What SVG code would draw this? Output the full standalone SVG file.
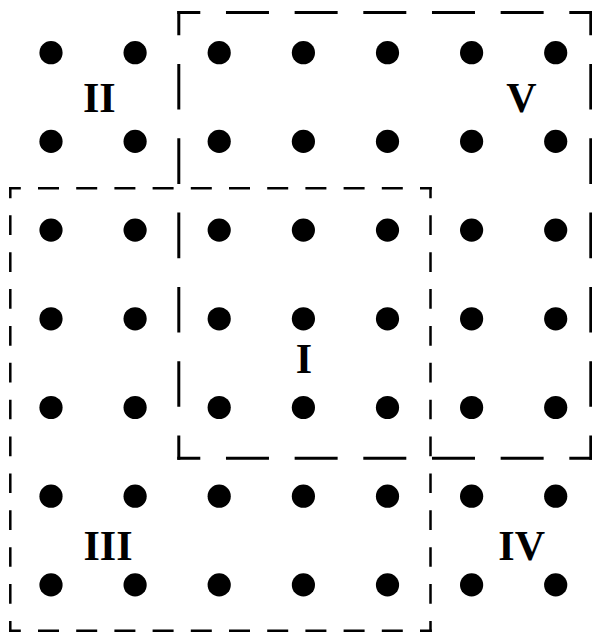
<svg xmlns="http://www.w3.org/2000/svg" width="592" height="633" viewBox="0 0 592 633">
<style>
.dot{fill:#000}
.lbl{font-family:"Liberation Serif","Times New Roman",serif;font-weight:bold;font-size:42px;text-anchor:middle;fill:#000}
.v{stroke:#000;stroke-width:3;fill:none}
.vh{stroke-dasharray:43 25.67;stroke-dashoffset:20}
.vv{stroke-dasharray:45.6 28.7;stroke-dashoffset:21.3}
.t{stroke:#000;stroke-width:2.5;fill:none}
.th{stroke-dasharray:21 17.2;stroke-dashoffset:9.25}
.tv{stroke-dasharray:19.7 17.17;stroke-dashoffset:8.6}
</style>
<rect width="592" height="633" fill="#fff"/>
<g id="connectors">
<g id="regionV">
<line class="v vh" x1="177.3" y1="12.5" x2="592.3" y2="12.5"/>
<line class="v vh" x1="177.3" y1="458.3" x2="592.3" y2="458.3"/>
<line class="v vv" x1="178.8" y1="11" x2="178.8" y2="459.8"/>
<line class="v vv" x1="590.8" y1="11" x2="590.8" y2="459.8"/>
</g>
<g id="regionIII">
<line class="t th" x1="9.05" y1="188.3" x2="431.75" y2="188.3"/>
<line class="t th" x1="9.05" y1="630.7" x2="431.75" y2="630.7"/>
<line class="t tv" x1="10.3" y1="187.05" x2="10.3" y2="631.95"/>
<line class="t tv" x1="430.5" y1="187.05" x2="430.5" y2="631.95"/>
</g>
</g>
<g id="dots">
<g id="row1"><circle class="dot" cx="51" cy="52.7" r="11.6"/><circle class="dot" cx="135.1" cy="52.7" r="11.6"/><circle class="dot" cx="219.2" cy="52.7" r="11.6"/><circle class="dot" cx="303.4" cy="52.7" r="11.6"/><circle class="dot" cx="387.5" cy="52.7" r="11.6"/><circle class="dot" cx="471.6" cy="52.7" r="11.6"/><circle class="dot" cx="555.7" cy="52.7" r="11.6"/></g>
<g id="row2"><circle class="dot" cx="51" cy="141.4" r="11.6"/><circle class="dot" cx="135.1" cy="141.4" r="11.6"/><circle class="dot" cx="219.2" cy="141.4" r="11.6"/><circle class="dot" cx="303.4" cy="141.4" r="11.6"/><circle class="dot" cx="387.5" cy="141.4" r="11.6"/><circle class="dot" cx="471.6" cy="141.4" r="11.6"/><circle class="dot" cx="555.7" cy="141.4" r="11.6"/></g>
<g id="row3"><circle class="dot" cx="51" cy="230.1" r="11.6"/><circle class="dot" cx="135.1" cy="230.1" r="11.6"/><circle class="dot" cx="219.2" cy="230.1" r="11.6"/><circle class="dot" cx="303.4" cy="230.1" r="11.6"/><circle class="dot" cx="387.5" cy="230.1" r="11.6"/><circle class="dot" cx="471.6" cy="230.1" r="11.6"/><circle class="dot" cx="555.7" cy="230.1" r="11.6"/></g>
<g id="row4"><circle class="dot" cx="51" cy="318.8" r="11.6"/><circle class="dot" cx="135.1" cy="318.8" r="11.6"/><circle class="dot" cx="219.2" cy="318.8" r="11.6"/><circle class="dot" cx="303.4" cy="318.8" r="11.6"/><circle class="dot" cx="387.5" cy="318.8" r="11.6"/><circle class="dot" cx="471.6" cy="318.8" r="11.6"/><circle class="dot" cx="555.7" cy="318.8" r="11.6"/></g>
<g id="row5"><circle class="dot" cx="51" cy="407.5" r="11.6"/><circle class="dot" cx="135.1" cy="407.5" r="11.6"/><circle class="dot" cx="219.2" cy="407.5" r="11.6"/><circle class="dot" cx="303.4" cy="407.5" r="11.6"/><circle class="dot" cx="387.5" cy="407.5" r="11.6"/><circle class="dot" cx="471.6" cy="407.5" r="11.6"/><circle class="dot" cx="555.7" cy="407.5" r="11.6"/></g>
<g id="row6"><circle class="dot" cx="51" cy="496.2" r="11.6"/><circle class="dot" cx="135.1" cy="496.2" r="11.6"/><circle class="dot" cx="219.2" cy="496.2" r="11.6"/><circle class="dot" cx="303.4" cy="496.2" r="11.6"/><circle class="dot" cx="387.5" cy="496.2" r="11.6"/><circle class="dot" cx="471.6" cy="496.2" r="11.6"/><circle class="dot" cx="555.7" cy="496.2" r="11.6"/></g>
<g id="row7"><circle class="dot" cx="51" cy="584.9" r="11.6"/><circle class="dot" cx="135.1" cy="584.9" r="11.6"/><circle class="dot" cx="219.2" cy="584.9" r="11.6"/><circle class="dot" cx="303.4" cy="584.9" r="11.6"/><circle class="dot" cx="387.5" cy="584.9" r="11.6"/><circle class="dot" cx="471.6" cy="584.9" r="11.6"/><circle class="dot" cx="555.7" cy="584.9" r="11.6"/></g>
</g>
<g id="labels">
<text id="label-II" class="lbl" x="99.3" y="111.7">II</text>
<text id="label-V" class="lbl" x="521.3" y="112">V</text>
<text id="label-I" class="lbl" x="304" y="372.7">I</text>
<text id="label-III" class="lbl" x="108" y="560">III</text>
<text id="label-IV" class="lbl" x="521.7" y="560">IV</text>
</g>
</svg>
